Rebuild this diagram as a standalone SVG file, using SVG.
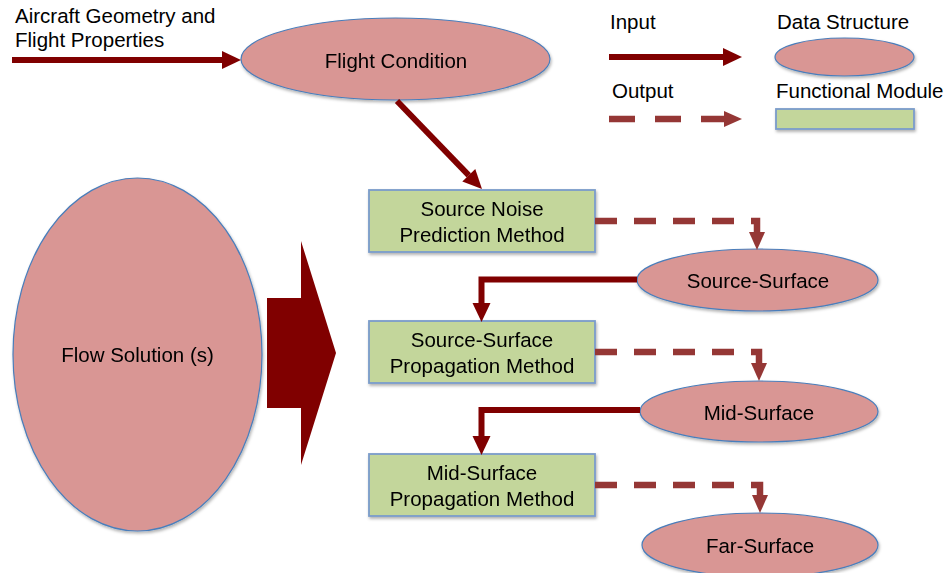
<svg xmlns="http://www.w3.org/2000/svg" width="947" height="573" viewBox="0 0 947 573">
<style>
text{font-family:"Liberation Sans",Arial,sans-serif;font-size:20.5px;fill:#000}
.c{text-anchor:middle}
.ell{fill:#D99694;stroke:#4A7EBB;stroke-width:1.2}
.box{fill:#C3D69B;stroke:#7A9CCB;stroke-width:1.8}
.solid{fill:none;stroke:#800000;stroke-width:6}
.dash{fill:none;stroke:#953735;stroke-width:6.5;stroke-dasharray:22 17}
</style>
<defs>
<filter id="sh" x="-10%" y="-10%" width="120%" height="130%">
<feDropShadow dx="1" dy="2" stdDeviation="1.5" flood-color="#000" flood-opacity="0.3"/>
</filter>
<marker id="hs" markerUnits="userSpaceOnUse" viewBox="0 0 19 18" markerWidth="19" markerHeight="18" refX="0" refY="9" orient="auto" overflow="visible">
<path d="M0,0 L19,9 L0,18 z" fill="#800000"/>
</marker>
<marker id="hd" markerUnits="userSpaceOnUse" viewBox="0 0 18 16" markerWidth="18" markerHeight="16" refX="0" refY="8" orient="auto" overflow="visible">
<path d="M0,0 L18,8 L0,16 z" fill="#953735"/>
</marker>
</defs>

<g id="label-input-source">
<text x="15" y="23">Aircraft Geometry and</text>
<text x="15" y="47">Flight Properties</text>
</g>

<g id="flight-condition" filter="url(#sh)">
<ellipse class="ell" cx="395.5" cy="59" rx="154.5" ry="41"/>
<text class="c" x="396" y="68">Flight Condition</text>
</g>

<g id="flow-solution" filter="url(#sh)">
<ellipse class="ell" cx="137.5" cy="354.5" rx="124.5" ry="176.5"/>
<text class="c" x="137.5" y="362">Flow Solution (s)</text>
</g>

<g id="source-noise" filter="url(#sh)">
<rect class="box" x="369" y="190" width="226" height="62"/>
<text class="c" x="482" y="216">Source Noise</text>
<text class="c" x="482" y="242">Prediction Method</text>
</g>

<g id="source-surface-prop" filter="url(#sh)">
<rect class="box" x="369" y="321" width="226" height="62"/>
<text class="c" x="482" y="347">Source-Surface</text>
<text class="c" x="482" y="373">Propagation Method</text>
</g>

<g id="mid-surface-prop" filter="url(#sh)">
<rect class="box" x="369" y="454" width="226" height="62"/>
<text class="c" x="482" y="480">Mid-Surface</text>
<text class="c" x="482" y="506">Propagation Method</text>
</g>

<g id="source-surface" filter="url(#sh)">
<ellipse class="ell" cx="757.5" cy="280" rx="120.5" ry="31"/>
<text class="c" x="758" y="288">Source-Surface</text>
</g>

<g id="mid-surface" filter="url(#sh)">
<ellipse class="ell" cx="759" cy="411.5" rx="119" ry="30.5"/>
<text class="c" x="759" y="420">Mid-Surface</text>
</g>

<g id="far-surface" filter="url(#sh)">
<ellipse class="ell" cx="760" cy="545" rx="118" ry="32"/>
<text class="c" x="760" y="553">Far-Surface</text>
</g>

<g id="legend">
<text x="610" y="29">Input</text>
<text x="612" y="98">Output</text>
<text x="777" y="29">Data Structure</text>
<text x="776" y="98">Functional Module</text>
<g filter="url(#sh)">
<ellipse class="ell" cx="844.5" cy="57" rx="69.5" ry="19"/>
<rect class="box" x="776" y="109" width="138" height="20"/>
</g>
<path class="solid" d="M609,57 H723" marker-end="url(#hs)"/>
<path class="dash" style="stroke-dasharray:26 20" d="M609,119 H724" marker-end="url(#hd)"/>
</g>

<g id="connectors">
<path class="solid" d="M12,60 H222" marker-end="url(#hs)"/>
<path class="solid" d="M397,101 L468.8,175.3" marker-end="url(#hs)"/>
<polygon points="267,298 301,298 301,241 336,353 301,465 301,408 267,408" fill="#800000"/>
<path class="dash" d="M595,221 H757 V232" marker-end="url(#hd)"/>
<path class="dash" d="M595,352 H759 V363" marker-end="url(#hd)"/>
<path class="dash" d="M595,485 H760 V495" marker-end="url(#hd)"/>
<path class="solid" d="M637,279.5 H481.5 V303" marker-end="url(#hs)"/>
<path class="solid" d="M640,410 H481.5 V436" marker-end="url(#hs)"/>
</g>
</svg>
